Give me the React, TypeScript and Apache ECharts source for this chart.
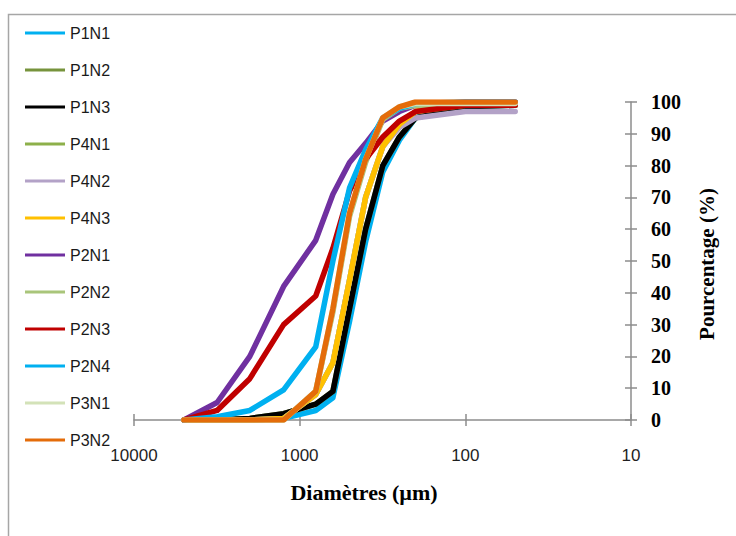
import React, { useEffect, useRef } from "react";
import * as echarts from "echarts";

const diameters = [5000, 3150, 2000, 1250, 800, 630, 500, 400, 315, 250, 200, 100, 50];

const seriesNames = ["P1N1", "P1N2", "P1N3", "P4N1", "P4N2", "P4N3", "P2N1", "P2N2", "P2N3", "P2N4", "P3N1", "P3N2"];

const P1N1 = [0, 0, 0, 0.5, 3, 7, 31, 56, 78, 88, 95, 98.5, 99];
const P1N2 = [0, 0, 0.5, 2, 5, 9, 35, 60, 80, 89, 95, 98.5, 99];
const P1N3 = [0, 0, 0.5, 2, 5, 9, 35, 60, 80, 89, 95, 98.5, 99];
const P4N1 = [0, 0, 0, 0.5, 8, 18, 44, 70, 86, 93, 97, 99, 99];
const P4N2 = [0, 0, 0, 0.5, 8, 18, 44, 70, 86, 92, 95, 97, 97];
const P4N3 = [0, 0, 0, 0.5, 8, 18, 44, 70, 86, 93, 97, 99.5, 99.5];
const P2N1 = [0, 5.5, 20, 42, 56.5, 71, 81, 87, 94, 97, 99, 100, 100];
const P2N2 = [0, 0, 0, 0, 9, 34, 64, 81, 94.5, 98, 99, 99, 99];
const P2N3 = [0, 3, 13, 30, 39, 54, 72, 82, 89, 94, 97, 99, 99];
const P2N4 = [0, 1, 3, 9.5, 23, 50, 73, 85, 95, 98, 99.5, 100, 100];
const P3N1 = [0, 0, 0, 0, 9, 35, 65, 82, 95, 98.5, 99.5, 99.5, 99.5];
const P3N2 = [0, 0, 0, 0, 9, 35, 65, 82, 95, 98.5, 100, 100, 100];

const seriesValues = [P1N1, P1N2, P1N3, P4N1, P4N2, P4N3, P2N1, P2N2, P2N3, P2N4, P3N1, P3N2];

const colors = ["#00B0F0", "#77933C", "#000000", "#8DB04A", "#B3A2C7", "#FFC000", "#7030A0", "#A9C57A", "#C00000", "#00B0F0", "#D3E2B8", "#E46C0A"];

const xTickLabels = [10, 100, 1000, 10000];
const yTicks = [0, 10, 20, 30, 40, 50, 60, 70, 80, 90, 100];

export default function App() {
  const ref = useRef<HTMLDivElement>(null);
  useEffect(() => {
    if (!ref.current) return;
    const chart = echarts.init(ref.current, undefined, { renderer: "svg" });
    const axisColor = "#8c8c8c";
    const grid = { left: 134, right: 105, top: 102, bottom: 116 };
    const xBase = {
      type: "log" as const,
      logBase: 10,
      min: xTickLabels[0],
      max: xTickLabels[xTickLabels.length - 1],
      inverse: true,
      position: "bottom" as const,
      splitLine: { show: false },
      minorTick: { show: false },
    };
    const yBase = {
      type: "value" as const,
      min: yTicks[0],
      max: yTicks[yTicks.length - 1],
      interval: 10,
      position: "right" as const,
      splitLine: { show: false },
    };
    chart.setOption({
      animation: false,
      backgroundColor: "#ffffff",
      color: colors,
      grid,
      legend: {
        orient: "vertical",
        left: 25,
        top: 25,
        padding: 0,
        itemGap: 21,
        itemWidth: 40,
        itemHeight: 3,
        icon: "rect",
        data: seriesNames,
        textStyle: { fontSize: 16, fontFamily: "Liberation Sans", color: "#1a1a1a", lineHeight: 16, padding: [0, 0, 0, 0] },
      },
      xAxis: [
        {
          ...xBase,
          axisLine: { show: true, lineStyle: { color: axisColor, width: 1.5 } },
          axisTick: { show: true, inside: false, length: 6, lineStyle: { color: axisColor, width: 1.5 } },
          axisLabel: {
            show: true,
            margin: 27,
            fontSize: 17,
            fontFamily: "Liberation Sans",
            color: "#1f1f1f",
            formatter: (v: number) => String(Math.round(v)),
          },
        },
        {
          ...xBase,
          axisLine: { show: false },
          axisTick: { show: true, inside: true, length: 6, lineStyle: { color: axisColor, width: 1.5 } },
          axisLabel: { show: false },
        },
      ],
      yAxis: [
        {
          ...yBase,
          axisLine: { show: true, lineStyle: { color: axisColor, width: 1.5 } },
          axisTick: { show: true, inside: false, length: 6, lineStyle: { color: axisColor, width: 1.5 } },
          axisLabel: {
            show: true,
            margin: 20,
            fontSize: 20,
            fontWeight: "bold",
            fontFamily: "Liberation Serif",
            color: "#000000",
          },
        },
        {
          ...yBase,
          axisLine: { show: false },
          axisTick: { show: true, inside: true, length: 6, lineStyle: { color: axisColor, width: 1.5 } },
          axisLabel: { show: false },
        },
      ],
      series: seriesNames.map((name, i) => ({
        name,
        type: "line",
        xAxisIndex: 0,
        yAxisIndex: 0,
        showSymbol: false,
        symbol: "none",
        lineStyle: { width: 5.5, color: colors[i], join: "round", cap: "round" },
        itemStyle: { color: colors[i] },
        data: diameters.map((d, j) => [d, seriesValues[i][j]]),
      })),
      graphic: [
        {
          type: "rect",
          shape: { x: 8.5, y: 14.5, width: 760, height: 560 },
          style: { fill: "none", stroke: "#a6a6a6", lineWidth: 1.5 },
          silent: true,
          z: -1,
        },
        {
          type: "text",
          x: 364,
          y: 492,
          style: {
            text: "Diamètres (µm)",
            fontSize: 22,
            fontWeight: "bold",
            fontFamily: "Liberation Serif",
            fill: "#000000",
            align: "center",
            verticalAlign: "middle",
          },
        },
        {
          type: "text",
          x: 707,
          y: 264,
          rotation: Math.PI / 2,
          style: {
            text: "Pourcentage (%)",
            fontSize: 21,
            fontWeight: "bold",
            fontFamily: "Liberation Serif",
            fill: "#000000",
            align: "center",
            verticalAlign: "middle",
          },
        },
      ],
    });
    return () => chart.dispose();
  }, []);
  return <div ref={ref} style={{ position: "fixed", left: 0, top: 0, width: 736, height: 536 }} />;
}
